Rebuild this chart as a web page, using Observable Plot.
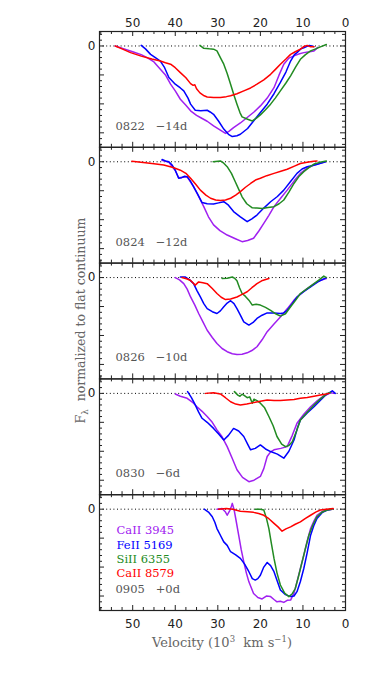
<!DOCTYPE html>
<html><head><meta charset="utf-8">
<script src="https://cdn.jsdelivr.net/npm/d3@7"></script>
<script src="https://cdn.jsdelivr.net/npm/@observablehq/plot@0.6"></script>
<style>body{margin:0;background:#fff} #chart{width:374px;height:673px}</style>
</head><body><div id="chart"></div>
<script>
// ---- data ----
const epochs = ["0822","0824","0826","0830","0905"];
const phases = ["\u221214d","\u221212d","\u221210d","\u22126d","+0d"];
const lineNames = ["CaII 3945","FeII 5169","SiII 6355","CaII 8579"];
const lineColors = ["#a020f0","#0000ff","#228b22","#ff0000"];
const xTickLabels = [50,40,30,20,10,0];
const yTickLabels = [0];

// [velocity (10^3 km/s), normalized flux]
const s0822_CaII3945 = [[54.1,0],[52,-0.1],[50,-0.2],[48,-0.3],[46.6,-0.4],[45,-0.55],[43.5,-0.8],[42.3,-1.0],[41.1,-1.32],[40,-1.55],[38.8,-1.84],[37.5,-2.05],[36.4,-2.24],[35,-2.4],[34.1,-2.47],[32.5,-2.6],[31,-2.76],[29.5,-2.9],[28.2,-3.02],[27.4,-2.95],[26.3,-2.82],[24.7,-2.66],[23.1,-2.47],[21.5,-2.28],[20,-2.07],[18.4,-1.8],[16.8,-1.44],[15.6,-1.0],[14.5,-0.63],[13.3,-0.42],[12.1,-0.34],[11,-0.28],[9.8,-0.23],[8.5,-0.2],[7.4,-0.17],[6.5,-0.05]];
const s0822_FeII5169 = [[48.0,0.02],[47,-0.1],[45.8,-0.29],[44.5,-0.42],[43.5,-0.52],[42.5,-0.75],[41.5,-1.09],[40,-1.32],[38.8,-1.45],[38,-1.55],[37,-1.8],[36.4,-2.01],[35.3,-2.22],[34,-2.24],[32.5,-2.22],[31.8,-2.28],[31,-2.36],[29.8,-2.6],[28.6,-2.87],[27.5,-3.05],[26.6,-3.13],[25.5,-3.1],[24.7,-3.05],[23,-2.85],[21.6,-2.59],[20,-2.3],[18.4,-2.01],[16.8,-1.65],[15.3,-1.26],[14,-0.9],[12.9,-0.52],[12,-0.3],[11.4,-0.23],[10.5,-0.1],[9.8,-0.06],[8.5,0.02],[7.5,-0.02]];
const s0822_SiII6355 = [[34.2,0.02],[33.3,-0.08],[32,-0.1],[31,-0.11],[30.2,-0.17],[29.4,-0.4],[28.6,-0.63],[27.8,-0.95],[27,-1.32],[26.2,-1.7],[25.5,-2.01],[24.8,-2.3],[24.3,-2.45],[23,-2.53],[21.9,-2.59],[21,-2.5],[20,-2.38],[18.8,-2.2],[17.6,-2.01],[16.5,-1.8],[15.3,-1.55],[14,-1.28],[12.9,-1.03],[11.7,-0.72],[10.6,-0.46],[9.4,-0.3],[8.2,-0.17],[7,-0.1],[5.9,-0.03],[4.5,0.05]];
const s0822_CaII8579 = [[54.1,0],[52.5,-0.1],[50.5,-0.23],[48,-0.35],[45.5,-0.45],[43.5,-0.52],[42.3,-0.58],[41.1,-0.63],[40,-0.75],[38.8,-0.92],[37.5,-1.1],[36.4,-1.3],[35.8,-1.36],[35.4,-1.34],[35,-1.48],[34.2,-1.62],[33.2,-1.72],[32.5,-1.76],[31,-1.78],[29.4,-1.78],[28,-1.75],[27,-1.72],[25.5,-1.65],[23.9,-1.55],[22.3,-1.45],[20.8,-1.32],[19.2,-1.17],[17.6,-0.98],[16.4,-0.8],[15.3,-0.63],[14,-0.45],[12.9,-0.29],[11.8,-0.2],[10.6,-0.11],[9.8,-0.02],[9,0.02],[8.2,-0.03],[7.4,-0.03]];

const s0824_CaII3945 = [[43.1,0.05],[41.5,-0.02],[40,-0.3],[39.2,-0.55],[37.2,-0.52],[35.7,-0.86],[34.5,-1.2],[33.3,-1.55],[32.2,-1.9],[31,-2.18],[29.5,-2.38],[27.8,-2.53],[26,-2.65],[24.3,-2.76],[23,-2.72],[21.6,-2.64],[20.4,-2.4],[19.2,-2.13],[18,-1.85],[16.8,-1.55],[15.2,-1.25],[13.7,-0.98],[12,-0.65],[10.6,-0.4],[9,-0.22],[7.4,-0.11],[4.7,0]];
const s0824_FeII5169 = [[43.1,0.08],[42.3,0.03],[41.5,0],[40.8,-0.1],[40,-0.29],[39.2,-0.57],[38.5,-0.55],[37.8,-0.5],[37.2,-0.52],[36.5,-0.65],[35.7,-0.86],[34.8,-1.1],[33.7,-1.41],[32.5,-1.45],[31,-1.46],[29.8,-1.42],[28.6,-1.38],[27.5,-1.5],[26.3,-1.72],[24.7,-1.9],[23.1,-2.07],[22,-1.97],[20.8,-1.84],[19.2,-1.6],[17.6,-1.38],[16,-1.2],[14.5,-0.98],[13,-0.7],[11.4,-0.4],[10.2,-0.25],[9,-0.17],[7,-0.1],[4.7,0]];
const s0824_SiII6355 = [[31.1,0],[29.4,0.03],[28.6,-0.05],[27.8,-0.17],[26.8,-0.4],[25.9,-0.69],[25,-0.98],[24.3,-1.21],[23.2,-1.45],[21.9,-1.59],[20.8,-1.6],[19.6,-1.61],[18.2,-1.58],[16.8,-1.55],[15.6,-1.45],[14.5,-1.32],[13.3,-1.05],[12.1,-0.75],[11,-0.52],[9.8,-0.34],[8.6,-0.2],[7.4,-0.08],[6,-0.02],[4.5,0.03]];
const s0824_CaII8579 = [[50.2,0.02],[47,-0.03],[45,-0.07],[42.7,-0.11],[40.5,-0.2],[38.8,-0.29],[37.5,-0.4],[36.4,-0.57],[35.2,-0.78],[34.1,-0.98],[32.8,-1.15],[31.7,-1.26],[30.5,-1.32],[29.4,-1.34],[28.2,-1.32],[27,-1.26],[25.8,-1.15],[24.7,-1.03],[23.5,-0.88],[22.3,-0.75],[21,-0.62],[20,-0.57],[18.5,-0.48],[16.8,-0.4],[15.2,-0.33],[13.7,-0.26],[12,-0.15],[10.6,-0.06],[9,-0.02],[7.5,0.02],[6.7,0.03]];

const s0826_CaII3945 = [[40,0],[39,-0.08],[38,-0.21],[37.2,-0.4],[36.4,-0.67],[35.4,-0.95],[34.5,-1.24],[33.5,-1.53],[32.5,-1.82],[31.3,-2.07],[30.2,-2.28],[29,-2.45],[27.8,-2.56],[26.6,-2.63],[25.5,-2.66],[24.3,-2.65],[23.1,-2.6],[22,-2.52],[20.8,-2.39],[19.6,-2.15],[18.4,-1.87],[16.8,-1.6],[15.3,-1.36],[13.7,-1.08],[12.1,-0.78],[10.6,-0.57],[9,-0.38],[7.4,-0.22],[6,-0.1],[4.5,-0.03]];
const s0826_FeII5169 = [[38.8,0.02],[37.6,0.02],[36.6,-0.08],[35.7,-0.21],[34.9,-0.45],[34.1,-0.67],[33.3,-0.9],[32.5,-1.07],[31.3,-1.18],[30.2,-1.24],[29.4,-1.15],[28.6,-1.01],[27.8,-0.88],[27,-0.8],[26.2,-0.9],[25.5,-1.07],[24.7,-1.3],[23.9,-1.53],[22.7,-1.64],[21.7,-1.55],[20.8,-1.41],[19.6,-1.3],[18.4,-1.22],[16.8,-1.22],[15.3,-1.24],[14.5,-1.22],[13.7,-1.13],[12.5,-0.9],[11.4,-0.67],[10,-0.5],[8.2,-0.32],[6.5,-0.15],[4.5,0]];
const s0826_SiII6355 = [[29,-0.03],[27.8,-0.02],[26.6,0.02],[26,-0.03],[25.5,-0.11],[24.9,-0.35],[24.3,-0.55],[23.5,-0.65],[22.7,-0.78],[21.9,-0.95],[21,-0.92],[20,-0.95],[18.8,-1.03],[17.6,-1.13],[16.4,-1.25],[15.3,-1.33],[14.1,-1.25],[12.9,-1.01],[11.7,-0.78],[10.6,-0.55],[9,-0.38],[7.4,-0.21],[6.2,-0.08],[5.1,0.05],[4.5,0]];
const s0826_CaII8579 = [[38.4,0],[37.2,-0.05],[36.4,-0.1],[35.3,-0.26],[34.5,-0.15],[33.5,-0.18],[32.5,-0.21],[31.3,-0.38],[30.2,-0.55],[29.2,-0.68],[28.2,-0.76],[27,-0.74],[25.5,-0.67],[24.3,-0.58],[23.1,-0.49],[22,-0.35],[20.8,-0.21],[19.5,-0.1],[18,-0.03]];

const s0830_CaII3945 = [[40,-0.02],[38.8,-0.1],[37.2,-0.17],[36,-0.3],[34.9,-0.46],[33.7,-0.62],[32.5,-0.8],[31.3,-1.0],[30.2,-1.26],[29,-1.5],[27.8,-1.84],[26.6,-2.25],[25.5,-2.64],[24.2,-2.9],[22.7,-3.05],[21.5,-3.0],[20,-2.87],[19.2,-2.6],[18.4,-2.18],[17.6,-2.02],[16.8,-1.95],[15.2,-1.9],[13.7,-1.84],[12.5,-1.45],[11.4,-1.03],[9.8,-0.72],[8.2,-0.46],[6.6,-0.25],[5.1,-0.09],[3.5,0.02],[2.6,0]];
const s0830_FeII5169 = [[37.1,0.06],[36.2,-0.15],[35.3,-0.4],[34.5,-0.65],[33.7,-0.86],[32.5,-1.0],[31,-1.21],[29.8,-1.4],[28.6,-1.61],[27.5,-1.45],[26.3,-1.21],[25.1,-1.3],[23.9,-1.49],[23,-1.75],[22.3,-1.95],[21.2,-1.9],[20,-1.78],[18.8,-1.92],[17.6,-2.01],[16,-2.1],[14.5,-2.24],[13.3,-2.0],[12.1,-1.61],[11.3,-1.2],[10.6,-0.92],[9,-0.68],[7.4,-0.46],[6,-0.25],[4.7,-0.06],[3.1,0.09],[2.4,0]];
const s0830_SiII6355 = [[26.1,0.06],[25.3,-0.06],[24.8,-0.1],[24.3,-0.03],[23.9,-0.06],[23.1,-0.15],[22.5,-0.12],[21.9,-0.34],[21.5,-0.2],[20.8,-0.25],[20,-0.34],[19,-0.5],[18,-0.8],[17,-1.12],[16.1,-1.49],[15,-1.75],[14.1,-1.84],[13.3,-1.8],[12.5,-1.67],[11.5,-1.3],[10.6,-0.92],[9,-0.65],[7.4,-0.4],[5.8,-0.18],[4.3,0],[3.5,0.03]];
const s0830_CaII8579 = [[32.9,0],[31,0.02],[29.4,-0.02],[28.2,-0.15],[27,-0.29],[25.8,-0.37],[24.7,-0.4],[23.2,-0.37],[21.6,-0.32],[20,-0.27],[18.4,-0.23],[16.8,-0.25],[15.3,-0.25],[13.7,-0.23],[12.1,-0.21],[10.6,-0.17],[9,-0.14],[7.4,-0.1],[5.9,-0.06],[4.5,-0.02],[3.9,0]];

const s0905_CaII3945 = [[30.2,0],[29,0.02],[28.2,-0.1],[27.8,-0.21],[27.2,-0.05],[26.8,0.1],[26.6,0.2],[26.2,0],[25.7,-0.4],[25.1,-0.9],[24.5,-1.4],[23.9,-1.82],[23.3,-2.2],[22.7,-2.51],[21.6,-2.91],[20.6,-3.05],[19.6,-3.1],[18.6,-3.0],[17.6,-3.02],[16.8,-3.12],[16.1,-3.2],[15.3,-3.18],[14.5,-3.22],[13.7,-3.15],[12.9,-3.14],[12.1,-2.9],[11.4,-2.51],[10.6,-2.05],[9.8,-1.59],[9,-1.1],[8.2,-0.67],[7.4,-0.4],[6.7,-0.21],[5.5,-0.08],[4.3,-0.03],[3.2,0]];
const s0905_FeII5169 = [[33.2,0],[32.2,-0.1],[31.3,-0.26],[30.7,-0.45],[30.2,-0.67],[29.4,-0.9],[28.6,-1.13],[27.8,-1.25],[27,-1.47],[25.8,-1.58],[24.7,-1.7],[23.7,-1.9],[22.7,-2.16],[21.9,-2.4],[21.2,-2.45],[20.6,-2.4],[20,-2.28],[19.2,-2.0],[18.4,-1.84],[17.6,-1.95],[16.8,-2.16],[16,-2.5],[15.3,-2.79],[14.1,-2.95],[12.9,-3.02],[12.1,-3.0],[11.4,-2.85],[10.6,-2.5],[9.8,-2.05],[9,-1.5],[8.2,-0.9],[7.4,-0.55],[6.7,-0.32],[5.5,-0.12],[4.3,-0.03],[3.2,0]];
const s0905_SiII6355 = [[21.2,0],[20,0],[19.2,-0.03],[18.6,-0.3],[18,-0.67],[17.4,-1.2],[16.8,-1.7],[16.1,-2.2],[15.3,-2.62],[14.3,-2.9],[13.3,-3.02],[12.5,-2.92],[11.8,-2.74],[11,-2.3],[10.2,-1.82],[9.4,-1.35],[8.6,-0.9],[7.6,-0.52],[6.7,-0.26],[5.5,-0.1],[4.3,-0.03],[3.2,0]];
const s0905_CaII8579 = [[29.8,0],[28,0.02],[26.5,0],[24.7,-0.07],[23,-0.09],[21.6,-0.11],[20.4,-0.15],[19.2,-0.21],[18,-0.33],[16.8,-0.49],[15.8,-0.62],[14.9,-0.76],[14,-0.68],[12.9,-0.61],[11.8,-0.52],[10.6,-0.44],[9.4,-0.32],[8.2,-0.21],[7,-0.1],[5.9,-0.03],[4.5,0],[2.9,0.02]];

// ---- table ----
const spectra = {
  "0822": [s0822_CaII3945, s0822_FeII5169, s0822_SiII6355, s0822_CaII8579],
  "0824": [s0824_CaII3945, s0824_FeII5169, s0824_SiII6355, s0824_CaII8579],
  "0826": [s0826_CaII3945, s0826_FeII5169, s0826_SiII6355, s0826_CaII8579],
  "0830": [s0830_CaII3945, s0830_FeII5169, s0830_SiII6355, s0830_CaII8579],
  "0905": [s0905_CaII3945, s0905_FeII5169, s0905_SiII6355, s0905_CaII8579]
};
const rows = [];
epochs.forEach(ep => spectra[ep].forEach((arr, i) =>
  arr.forEach(([v, f]) => rows.push({epoch: ep, line: lineNames[i], v, f}))));
const panelLabels = epochs.map((e, i) => ({epoch: e, text: e + "   " + phases[i]}));

// ---- layout ----
const W = 374, H = 673, mT = 31, mB = 63, mL = 99, mR = 29;
const xDom = [57.8, 0], yDom = [-3.5, 0.5];
const ky = (H - mT - mB) / epochs.length / (yDom[1] - yDom[0]); // px per y unit
const kx = (W - mL - mR) / (xDom[0] - xDom[1]);                // px per x unit
const majPx = 5, minPx = 3;
const xMinor = d3.range(0, 58, 2.5).filter(v => v % 10 !== 0);
const xMajor = d3.range(0, 58, 10);
const yAll = d3.range(-17, 3).map(i => i / 5);
const yMajor = yAll.filter(v => Number.isInteger(v));
const yMinor = yAll.filter(v => !Number.isInteger(v));
const tickColor = "#222";
const serif = "DejaVu Serif";

const xTicks = (vals, len) => [
  Plot.ruleX(vals, {y1: yDom[1], y2: yDom[1] - len / ky, stroke: tickColor, strokeWidth: 1}),
  Plot.ruleX(vals, {y1: yDom[0], y2: yDom[0] + len / ky, stroke: tickColor, strokeWidth: 1})
];
const yTicks = (vals, len) => [
  Plot.ruleY(vals, {x1: xDom[0], x2: xDom[0] - len / kx, stroke: tickColor, strokeWidth: 1}),
  Plot.ruleY(vals, {x1: xDom[1], x2: xDom[1] + len / kx, stroke: tickColor, strokeWidth: 1})
];

const legendMarks = lineNames.map((name, i) =>
  Plot.text([{epoch: "0905", name}], {
    fy: "epoch", text: "name", fill: "name", frameAnchor: "top-left",
    textAnchor: "start", dx: 17, dy: 31.5 + i * 14.2, fontSize: 11.5, fontFamily: serif
  }));

const plot = Plot.plot({
  width: W, height: H,
  marginTop: mT, marginBottom: mB, marginLeft: mL, marginRight: mR,
  facet: {marginTop: 0, marginRight: 0, marginBottom: 0, marginLeft: 0},
  style: {fontFamily: "DejaVu Sans", fontSize: "12px", background: "#fff"},
  x: {domain: xDom, axis: null},
  y: {domain: yDom, axis: null},
  fy: {domain: epochs, paddingInner: 0, paddingOuter: 0, round: false, axis: null},
  color: {domain: lineNames, range: lineColors},
  marks: [
    Plot.ruleY(yTickLabels, {stroke: "#000", strokeWidth: 1, strokeDasharray: "1,2.6"}),
    Plot.line(rows, {x: "v", y: "f", z: "line", stroke: "line", fy: "epoch", strokeWidth: 1.5}),
    ...xTicks(xMajor, majPx), ...xTicks(xMinor, minPx),
    ...yTicks(yMajor, majPx), ...yTicks(yMinor, minPx),
    Plot.frame({stroke: tickColor, strokeWidth: 1.2}),
    Plot.axisX({anchor: "top", ticks: xTickLabels, tickFormat: d => String(d), tickSize: 0, tickPadding: 4.5, label: null, fontSize: 12, color: "#222"}),
    Plot.axisX({anchor: "bottom", ticks: xTickLabels, tickFormat: d => String(d), tickSize: 0, tickPadding: 9, label: null, fontSize: 12, color: "#222"}),
    Plot.axisY({anchor: "left", ticks: yTickLabels, tickFormat: d => String(d), tickSize: 0, tickPadding: 4, label: null, fontSize: 12, color: "#222"}),
    Plot.text(panelLabels, {fy: "epoch", text: "text", frameAnchor: "bottom-left", textAnchor: "start",
      dx: 16, dy: -17.5, fill: "#555", fontSize: 11.5, fontFamily: serif}),
    ...legendMarks
  ]
});
document.getElementById("chart").appendChild(plot);

// axis titles
const svg = d3.select(plot);
const yt = svg.append("text")
  .attr("transform", `translate(85,${(mT + H - mB) / 2}) rotate(-90)`)
  .attr("text-anchor", "middle").attr("fill", "#666")
  .attr("font-family", serif).attr("font-size", 12.5);
yt.append("tspan").text("F");
yt.append("tspan").attr("dy", 3).attr("font-size", 8.5).text("\u03bb");
yt.append("tspan").attr("dy", -3).text("  normalized to flat continuum");

const xt = svg.append("text")
  .attr("x", (mL + W - mR) / 2).attr("y", 647)
  .attr("text-anchor", "middle").attr("fill", "#666")
  .attr("font-family", serif).attr("font-size", 13);
xt.append("tspan").text("Velocity (10");
xt.append("tspan").attr("dy", -5).attr("font-size", 8.5).text("3");
xt.append("tspan").attr("dy", 5).text("  km s");
xt.append("tspan").attr("dy", -5).attr("font-size", 8.5).text("\u22121");
xt.append("tspan").attr("dy", 5).text(")");
</script>
</body></html>
